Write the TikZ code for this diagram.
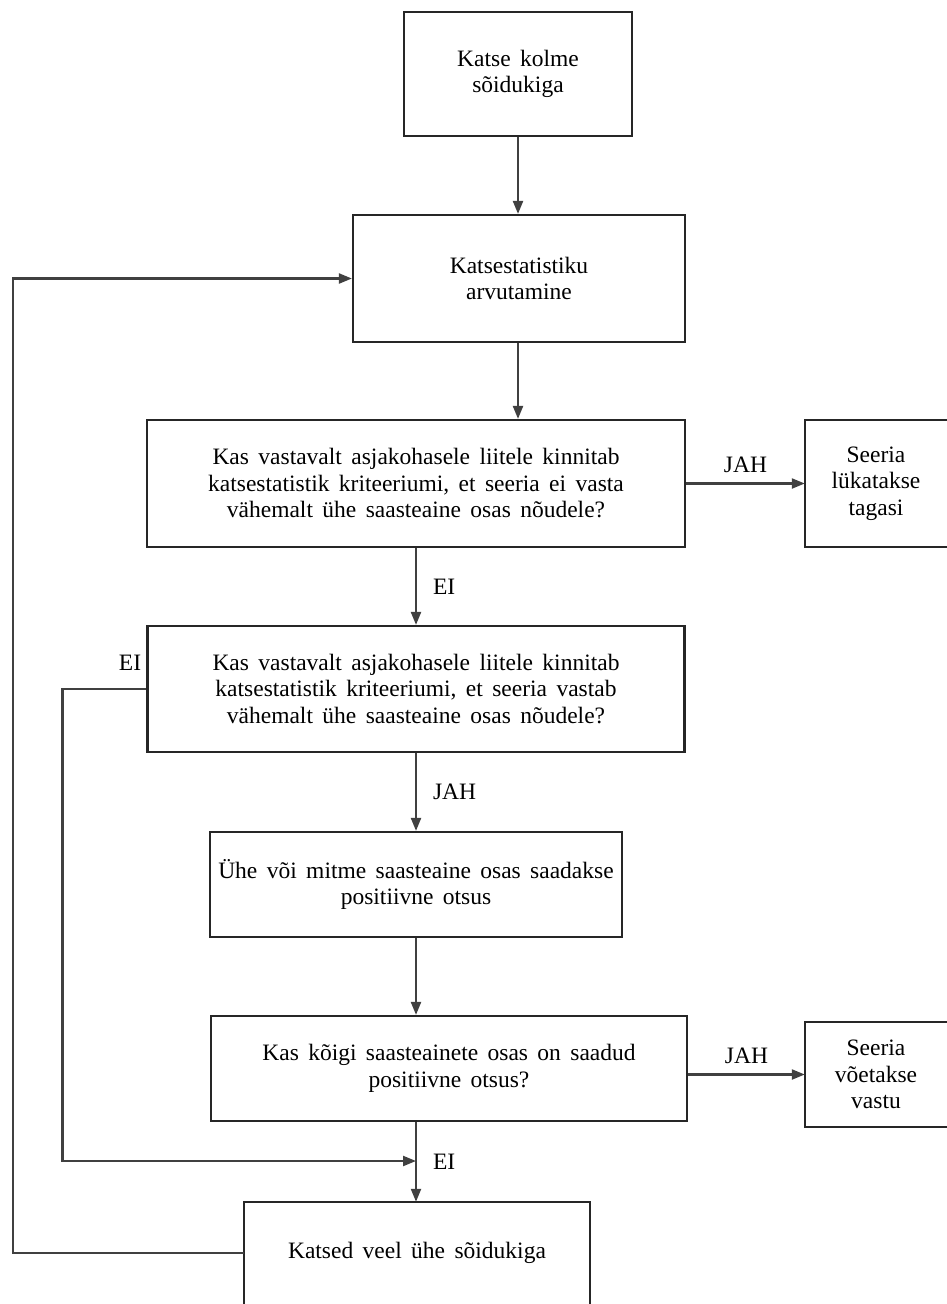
\documentclass[tikz,border=0pt]{standalone}
\usepackage{fontspec}
\setmainfont{Liberation Serif}
\usetikzlibrary{arrows.meta}
\newcommand\myboxfont{\fontsize{23.5}{26.5}\selectfont\spaceskip=0.4em plus 0.1em\relax}
\newcommand\mylblfont{\fontsize{23.5}{26}\selectfont}
\begin{document}
\begin{tikzpicture}[x=1pt,y=-1pt,
  txt/.style={font=\myboxfont, align=center, inner sep=0pt},
  boxx/.style={txt, draw=black!85, line width=2.2pt, rectangle},
  conn/.style={draw=black!75, line width=2.2pt, -{Triangle[length=13pt,width=10pt]}},
  plain/.style={draw=black!85, line width=2.2pt},
  lbl/.style={font=\mylblfont, inner sep=0pt}]
\useasboundingbox (0,0) rectangle (947,1304);
\clip (0,0) rectangle (947,1304);
% boxes
\node[boxx, minimum width=228pt, minimum height=124pt] (b1) at (518,74) {Katse kolme\\sõidukiga};
\node[boxx, minimum width=332pt, minimum height=127pt] (b2) at (519,278.5) {Katsestatistiku\\arvutamine};
\node[boxx, minimum width=538pt, minimum height=127pt] (b3) at (416,483.5) {Kas vastavalt asjakohasele liitele kinnitab\\katsestatistik kriteeriumi, et seeria ei vasta\\vähemalt ühe saasteaine osas nõudele?};
\node[txt, minimum width=142pt, minimum height=127pt] (b4) at (876,483.5) {Seeria\\lükatakse\\tagasi};
\draw[plain] ([xshift=20pt]b4.north east) -- (b4.north west) -- (b4.south west) -- ([xshift=20pt]b4.south east);
\node[boxx, minimum width=537pt, minimum height=126pt] (b5) at (416,689) {Kas vastavalt asjakohasele liitele kinnitab\\katsestatistik kriteeriumi, et seeria vastab\\vähemalt ühe saasteaine osas nõudele?};
\node[boxx, minimum width=412pt, minimum height=105pt] (b6) at (416,884.5) {Ühe või mitme saasteaine osas saadakse\\positiivne otsus};
\node[boxx, minimum width=476pt, minimum height=105pt] (b7) at (449,1068.5) {Kas kõigi saasteainete osas on saadud\\positiivne otsus?};
\node[txt, minimum width=142pt, minimum height=105pt] (b8) at (876,1074.5) {Seeria\\võetakse\\vastu};
\draw[plain] ([xshift=20pt]b8.north east) -- (b8.north west) -- (b8.south west) -- ([xshift=20pt]b8.south east);
\node[txt, minimum width=345pt, minimum height=102pt] (b9) at (417,1253) {Katsed veel ühe sõidukiga};
\draw[plain] ([yshift=-20pt]b9.south west) -- (b9.north west) -- (b9.north east) -- ([yshift=-20pt]b9.south east);
% connectors
\draw[conn] (b1.south) -- (b1.south |- b2.north);
\draw[conn] (b2.south -| b1.south) -- (b1.south |- b3.north);
\draw[conn] (b3.east) -- (b4.west) node[lbl, midway, above=10pt] {JAH};
\draw[conn] (b3.south) -- (b5.north) node[lbl, midway, right=16pt] {EI};
\draw[conn] (b5.south) -- (b6.north) node[lbl, midway, right=16pt] {JAH};
\draw[conn] (b6.south) -- (b6.south |- b7.north);
\draw[conn] (b7.east |- b8.west) -- (b8.west) node[lbl, midway, above=10pt] {JAH};
\coordinate (m) at (416,1161);
\draw[conn] (b6.south |- b7.south) -- (b6.south |- b9.north) node[lbl, midway, right=16pt] {EI};
\draw[conn] (b5.west) -- ++(-84,0) |- (m);
\node[lbl] (ei2) at (130,663) {EI};
\draw[conn] (b9.west) -- ++(-231.5,0) |- (b2.west);
\end{tikzpicture}
\end{document}
